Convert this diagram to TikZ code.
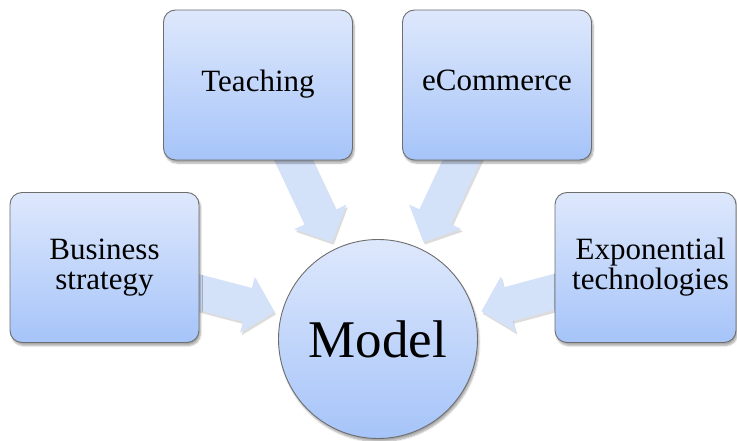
\documentclass[tikz,border=0pt]{standalone}
\usepackage{fontspec}
\setmainfont{Liberation Serif}
\usetikzlibrary{arrows.meta,shadows.blur,backgrounds}

\definecolor{boxtop}{HTML}{DEE8FC}
\definecolor{boxbot}{HTML}{A6C4F9}
\definecolor{boxline}{HTML}{6E6E6E}
\definecolor{flow}{HTML}{D3E1F9}

\tikzset{
  topicbox/.style={
    rectangle, rounded corners=12pt, draw=boxline, line width=0.9pt,
    top color=boxtop, bottom color=boxbot,
    minimum width=189pt, minimum height=150pt, inner sep=0pt,
    align=center, font=\fontsize{31}{30}\selectfont,
    blur shadow={shadow xshift=1.5pt, shadow yshift=-3pt, shadow blur steps=6, shadow opacity=35}
  },
  hubcircle/.style={
    circle, draw=boxline, line width=0.9pt,
    top color=boxtop, bottom color=boxbot,
    minimum size=199pt, inner sep=0pt,
    font=\fontsize{53}{58}\selectfont,
    blur shadow={shadow xshift=1.5pt, shadow yshift=-3pt, shadow blur steps=6, shadow opacity=35}
  },
  flowarrow/.style={
    draw=flow, line width=35pt,
    -{Triangle[width=56pt,length=28pt]}, shorten >=7pt
  },
  flowshadow/.style={
    draw=black!45, opacity=0.3, line width=35pt,
    -{Triangle[width=56pt,length=28pt]}, shorten >=7pt,
    transform canvas={shift={(1.5pt,-2.5pt)}}
  }
}

\begin{document}
\begin{tikzpicture}[x=1pt,y=-1pt]
  \useasboundingbox (0,0) rectangle (737,441);

  \node[topicbox] (teach) at (258,85) {\strut Teaching};
  \node[topicbox] (ecom) at (497,85) {\strut eCommerce};
  \node[topicbox] (biz) at (104.5,267.5) {Business\\strategy};
  \node[topicbox, minimum width=181pt] (expo) at (645.5,267.5) {\hspace*{10pt}Exponential\\\hspace*{10pt}technologies};
  \node[hubcircle] (model) at (378,339) {Model};

  \begin{pgfonlayer}{background}
    \foreach \src in {teach,ecom,biz,expo}{
      \draw[flowshadow] (\src.center) -- (model);
      \draw[flowarrow] (\src.center) -- (model);
    }
  \end{pgfonlayer}
\end{tikzpicture}
\end{document}
